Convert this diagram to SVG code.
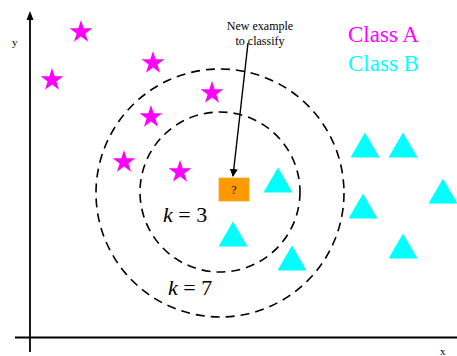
<svg xmlns="http://www.w3.org/2000/svg" xmlns:xlink="http://www.w3.org/1999/xlink" width="457" height="356" viewBox="0 0 457 356">
<style>
.axis{stroke:#000;stroke-width:1.8;fill:none}
.ring{stroke:#000;stroke-width:1.6;fill:none;stroke-dasharray:9 6}
.star{fill:#ff00ff}
.tri{fill:#00ffff}
.lbl{font-family:"Liberation Serif",serif;fill:#000}
</style>
<defs>
<path id="star" d="M0,-12 L2.70,-3.71 L11.41,-3.71 L4.37,1.42 L7.05,9.71 L0,4.59 L-7.05,9.71 L-4.37,1.42 L-11.41,-3.71 L-2.70,-3.71 Z"/>
<polygon id="tri" points="-14.5,12.5 14.5,12.5 0,-12.5"/>
<marker id="ah" markerWidth="8" markerHeight="8" refX="7" refY="4" orient="auto" markerUnits="userSpaceOnUse">
<path d="M0,0 L8,4 L0,8 Z" fill="#000"/>
</marker>
</defs>
<rect width="457" height="356" fill="#fff"/>
<g id="axes">
<line class="axis" x1="30" y1="352" x2="30" y2="18"/>
<path d="M30,11 L26.5,20 L33.5,20 Z" fill="#000"/>
<line class="axis" x1="15" y1="337.5" x2="457" y2="337.5"/>
<text class="lbl" x="12" y="46" font-size="11">y</text>
<text class="lbl" x="440" y="355" font-size="11">x</text>
</g>
<g id="rings">
<circle class="ring" cx="220" cy="192" r="80"/>
<circle class="ring" cx="220" cy="193" r="124"/>
</g>
<g id="classA">
<use href="#star" class="star" x="81" y="32"/>
<use href="#star" class="star" x="52" y="80"/>
<use href="#star" class="star" x="153" y="63"/>
<use href="#star" class="star" x="212" y="93"/>
<use href="#star" class="star" x="151" y="117"/>
<use href="#star" class="star" x="124" y="162"/>
<use href="#star" class="star" x="180" y="172"/>
</g>
<g id="classB">
<use href="#tri" class="tri" x="278" y="180"/>
<use href="#tri" class="tri" x="233" y="234"/>
<use href="#tri" class="tri" x="292" y="258"/>
<use href="#tri" class="tri" x="365" y="145"/>
<use href="#tri" class="tri" x="403" y="145"/>
<use href="#tri" class="tri" x="363" y="206"/>
<use href="#tri" class="tri" x="443" y="191"/>
<use href="#tri" class="tri" x="403" y="246"/>
</g>
<g id="query">
<rect x="219" y="178" width="30" height="23" fill="#ff9900" stroke="#f5a623" stroke-width="0.8"/>
<text class="lbl" x="234" y="194" font-size="12" text-anchor="middle">?</text>
</g>
<g id="connectors">
<line x1="248" y1="43" x2="233" y2="176" stroke="#000" stroke-width="1.4" marker-end="url(#ah)"/>
</g>
<g id="note">
<text class="lbl" x="260" y="30" font-size="12" text-anchor="middle">New example</text>
<text class="lbl" x="260" y="45" font-size="12" text-anchor="middle">to classify</text>
</g>
<g id="legend">
<text x="348" y="42" font-family="Liberation Serif,serif" font-size="23" fill="#ff00ff">Class A</text>
<text x="348" y="71" font-family="Liberation Serif,serif" font-size="23" fill="#00ffff">Class B</text>
</g>
<g id="klabels">
<text class="lbl" x="163" y="222" font-size="22"><tspan font-style="italic">k</tspan> = 3</text>
<text class="lbl" x="168" y="295" font-size="22"><tspan font-style="italic">k</tspan> = 7</text>
</g>
</svg>
